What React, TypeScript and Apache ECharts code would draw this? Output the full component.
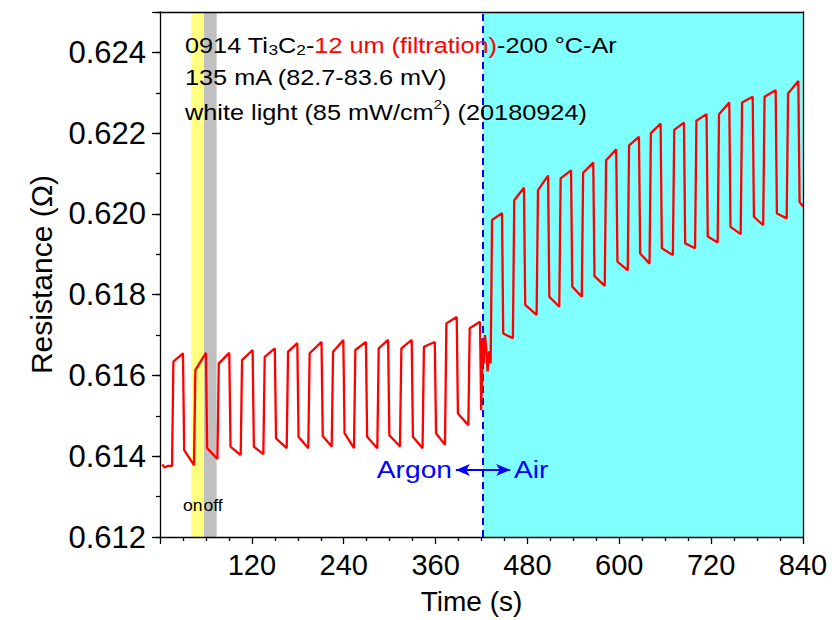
import React, { useEffect, useRef } from "react";
import * as echarts from "echarts";

// ---------- data ----------
const xTickLabels = ["120", "240", "360", "480", "600", "720", "840"];
const yTickLabels = ["0.612", "0.614", "0.616", "0.618", "0.620", "0.622", "0.624"];

// initial dark baseline before the first light pulse
const initialTimes = [3, 6, 10, 14.5];
const initialValues = [0.6138, 0.61372, 0.61376, 0.61376];

// light on (rise) / light off (fall) times, s
const riseTimes = [15.7, 44.4, 75, 105.4, 135, 165.5, 193.7, 224.3, 253.4, 283.9, 313.5, 343, 372.3, 402.8,
  432, 461, 492, 521.6, 551, 581, 611, 639.5, 670, 699, 728.5, 758.6, 788, 818.7];
const fallTimes = [30, 60, 90.5, 121, 150, 179.4, 211, 239.5, 269, 298, 328.8, 359, 387.6, 418,
  446.8, 475.5, 507, 537, 566, 596, 625.7, 654, 684.5, 714, 743.7, 774.3, 804.3, 833.9];
// resistance at start / end of each illuminated plateau
const highStart = [0.61634, 0.61613, 0.6163, 0.61638, 0.61646, 0.61659, 0.61655, 0.61659, 0.61663, 0.61667, 0.61667, 0.61671, 0.61729, 0.61717,
  0.61985, 0.62034, 0.62059, 0.62088, 0.62102, 0.62133, 0.6217, 0.622, 0.62208, 0.62231, 0.62247, 0.62276, 0.6229, 0.62298];
const highEnd = [0.61655, 0.61656, 0.61656, 0.61663, 0.61667, 0.6168, 0.61683, 0.61688, 0.61683, 0.61688, 0.61688, 0.61683, 0.61745, 0.61733,
  0.62002, 0.62065, 0.62095, 0.62108, 0.62127, 0.6216, 0.62191, 0.62224, 0.62226, 0.62247, 0.62276, 0.6229, 0.62306, 0.62329];
// resistance at start / end of each dark plateau
const lowStart = [0.61415, 0.6142, 0.61424, 0.61424, 0.61444, 0.61448, 0.6145, 0.61457, 0.61448, 0.61452, 0.61448, 0.61457, 0.61506, 0.61514,
  0.61704, 0.61775, 0.61795, 0.6182, 0.61846, 0.61882, 0.61902, 0.61915, 0.61927, 0.61944, 0.61968, 0.61993, 0.62001, 0.6203];
const lowEnd = [0.61378, 0.61393, 0.61403, 0.61405, 0.6142, 0.6142, 0.61424, 0.6142, 0.6142, 0.61424, 0.6142, 0.61428, 0.61477, 0.6163,
  0.61692, 0.6175, 0.6177, 0.61795, 0.61822, 0.6186, 0.61877, 0.61898, 0.61915, 0.61929, 0.6195, 0.61972, 0.61989, 0.62018];
// gas switch (Argon -> Air) transient
const switchCycle = 13;
const switchTimes = [420.5, 421.5, 423, 424.5, 426.5, 428, 430];
const switchValues = [0.6158, 0.6169, 0.6163, 0.617, 0.6166, 0.6161, 0.6166];

const gasSwitchTime = 422;
const onBand = [41, 57.5];
const offBand = [57.5, 74];
const arrowLevel = 0.61366;
const arrowLeftEnd = 386.5;
const arrowRightEnd = 457.5;

const FONT = "Liberation Sans, Arial, sans-serif";

function buildSeries(): [number, number][] {
  const RISE = 1.8;
  const FALL = 1.6;
  const pts: [number, number][] = [];
  initialTimes.forEach((t, i) => pts.push([t, initialValues[i]]));
  for (let i = 0; i < riseTimes.length; i++) {
    const prev = i === 0 ? initialValues[initialValues.length - 1] : lowEnd[i - 1];
    pts.push([riseTimes[i], prev]);
    pts.push([riseTimes[i] + RISE, highStart[i]]);
    pts.push([fallTimes[i], highEnd[i]]);
    pts.push([fallTimes[i] + FALL, lowStart[i]]);
    if (i === switchCycle) {
      switchTimes.forEach((t, k) => pts.push([t, switchValues[k]]));
    }
  }
  pts.push([840, lowEnd[lowEnd.length - 1]]);
  return pts;
}

export default function App() {
  const ref = useRef<HTMLDivElement>(null);
  useEffect(() => {
    if (!ref.current) return;
    const chart = echarts.init(ref.current, undefined, { renderer: "svg" });
    const black = "#000";
    const axisCommon = {
      type: "value" as const,
      splitLine: { show: false },
      z: 10,
    };
    const option: any = {
      animation: false,
      backgroundColor: "#fff",
      grid: { left: 160, top: 12, width: 643, height: 525, containLabel: false },
      xAxis: [
        {
          ...axisCommon,
          min: 0,
          max: 840,
          interval: 120,
          axisLine: { lineStyle: { color: black, width: 1.3 } },
          axisTick: { length: 7, lineStyle: { color: black, width: 1.3 } },
          minorTick: { show: true, splitNumber: 4, length: 4, lineStyle: { color: black, width: 1.3 } },
          axisLabel: {
            fontSize: 29,
            fontFamily: FONT,
            color: black,
            margin: 13,
            formatter: (v: number) => (xTickLabels.includes(String(v)) ? String(v) : ""),
          },
          name: "Time (s)",
          nameLocation: "middle",
          nameGap: 50,
          nameTextStyle: { fontSize: 28, fontFamily: FONT, color: black, padding: [0, 20, 0, 0] },
        },
        {
          ...axisCommon,
          position: "top",
          min: 0,
          max: 840,
          axisLine: { lineStyle: { color: black, width: 1.3 } },
          axisTick: { show: false },
          axisLabel: { show: false },
        },
      ],
      yAxis: [
        {
          ...axisCommon,
          position: "left",
          min: 0.612,
          max: 0.625,
          interval: 0.002,
          axisLine: { lineStyle: { color: black, width: 1.3 } },
          axisTick: { length: 8, lineStyle: { color: black, width: 1.3 } },
          axisLabel: {
            fontSize: 31,
            fontFamily: FONT,
            color: black,
            margin: 14,
            formatter: (v: number) => {
              const s = v.toFixed(3);
              return yTickLabels.includes(s) ? s : "";
            },
          },
          name: "Resistance (Ω)",
          nameLocation: "middle",
          nameGap: 104,
          nameTextStyle: { fontSize: 30, fontFamily: FONT, color: black },
        },
        {
          ...axisCommon,
          position: "left",
          min: 0.612,
          max: 0.625,
          interval: 0.001,
          axisLine: { show: false },
          axisTick: { length: 4, lineStyle: { color: black, width: 1.3 } },
          axisLabel: { show: false },
        },
        {
          ...axisCommon,
          position: "right",
          min: 0.612,
          max: 0.625,
          axisLine: { lineStyle: { color: black, width: 1.3 } },
          axisTick: { show: false },
          axisLabel: { show: false },
        },
      ],
      series: [
        {
          type: "line",
          data: [],
          z: 1,
          silent: true,
          markArea: {
            silent: true,
            data: [
              [{ xAxis: gasSwitchTime, itemStyle: { color: "#80FFFF" } }, { xAxis: 840 }],
              [{ xAxis: onBand[0], itemStyle: { color: "#FFFF80" } }, { xAxis: onBand[1] }],
              [{ xAxis: offBand[0], itemStyle: { color: "#C0C0C0" } }, { xAxis: offBand[1] }],
            ],
          },
        },
        {
          type: "line",
          data: [],
          z: 3,
          silent: true,
          markLine: {
            silent: true,
            symbol: "none",
            label: { show: false },
            lineStyle: { color: "#0000FF", type: [7, 5], width: 2 },
            data: [{ xAxis: gasSwitchTime }],
          },
        },
        {
          type: "line",
          data: [],
          z: 4,
          silent: true,
          markLine: {
            silent: true,
            symbol: ["none", "arrow"],
            symbolSize: [9, 14],
            label: { show: false },
            lineStyle: { color: "#0000FF", type: "solid", width: 2 },
            data: [
              [{ coord: [gasSwitchTime, arrowLevel] }, { coord: [arrowLeftEnd, arrowLevel] }],
              [{ coord: [gasSwitchTime, arrowLevel] }, { coord: [arrowRightEnd, arrowLevel] }],
            ],
          },
        },
        {
          type: "line",
          data: buildSeries(),
          z: 5,
          showSymbol: false,
          symbol: "none",
          lineStyle: { color: "#FF0000", width: 2.3 },
        },
      ],
      graphic: [
        {
          type: "text",
          x: 185,
          y: 44,
          scaleX: 1.15,
          z: 20,
          style: {
            text: "{b|0914 Ti}{s|3}{b|C}{s|2}{b|-}{r|12 um (filtration)}{b|-200 °C-Ar}",
            verticalAlign: "middle",
            rich: {
              b: { fontSize: 22, fontFamily: FONT, fill: "#000", lineHeight: 26, verticalAlign: "bottom" },
              r: { fontSize: 22, fontFamily: FONT, fill: "#FF0000", lineHeight: 26, verticalAlign: "bottom" },
              s: { fontSize: 15, fontFamily: FONT, fill: "#000", lineHeight: 22, verticalAlign: "bottom" },
            },
          },
        },
        {
          type: "text",
          x: 185,
          y: 78,
          scaleX: 1.15,
          z: 20,
          style: { text: "135 mA (82.7-83.6 mV)", fontSize: 22, fontFamily: FONT, fill: "#000", verticalAlign: "middle" },
        },
        {
          type: "text",
          x: 185,
          y: 111,
          scaleX: 1.15,
          z: 20,
          style: {
            text: "{b|white light (85 mW/cm}{p|2}{b|) (20180924)}",
            verticalAlign: "middle",
            rich: {
              b: { fontSize: 22, fontFamily: FONT, fill: "#000", lineHeight: 26, verticalAlign: "bottom" },
              p: { fontSize: 13, fontFamily: FONT, fill: "#000", lineHeight: 26, verticalAlign: "top" },
            },
          },
        },
        {
          type: "text",
          x: 452,
          y: 470,
          scaleX: 1.15,
          z: 20,
          style: { text: "Argon", fontSize: 24.5, fontFamily: FONT, fill: "#0000FF", align: "right", verticalAlign: "middle" },
        },
        {
          type: "text",
          x: 514,
          y: 470,
          scaleX: 1.15,
          z: 20,
          style: { text: "Air", fontSize: 24.5, fontFamily: FONT, fill: "#0000FF", align: "left", verticalAlign: "middle" },
        },
        {
          type: "text",
          x: 183,
          y: 506,
          scaleX: 1.1,
          z: 20,
          style: { text: "on", fontSize: 16, fontFamily: FONT, fill: "#000", verticalAlign: "middle" },
        },
        {
          type: "text",
          x: 203.5,
          y: 506,
          scaleX: 1.1,
          z: 20,
          style: { text: "off", fontSize: 16, fontFamily: FONT, fill: "#000", verticalAlign: "middle" },
        },
      ],
    };
    chart.setOption(option);
    return () => chart.dispose();
  }, []);
  return <div ref={ref} style={{ width: 832, height: 620, position: "absolute", left: 0, top: 0 }} />;
}
